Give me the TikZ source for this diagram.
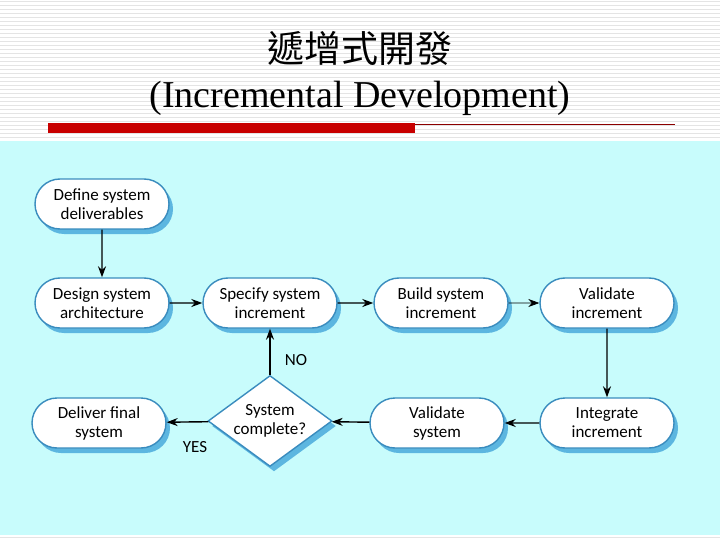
\documentclass[tikz,border=0pt]{standalone}
\usepackage{fontspec}
\setmainfont{Liberation Serif}
\newfontfamily\cjk{Noto Sans CJK TC}
\newfontfamily\flowfont{Carlito}
\usepackage{tikz}
\usetikzlibrary{arrows.meta, positioning, shapes.geometric, shapes.misc, shadows}
\definecolor{panelcyan}{HTML}{C8FCFC}
\definecolor{edgeblue}{HTML}{3A8CBE}
\definecolor{shadeblue}{HTML}{5CB6E0}
\definecolor{barred}{HTML}{C80000}
\definecolor{stripegray}{HTML}{E4E4E4}

\begin{document}
\begin{tikzpicture}[x=1pt, y=-1pt,
    stage/.style={rounded rectangle, draw=edgeblue, line width=1.4pt, fill=white, minimum width=138pt, minimum height=50pt, inner sep=2pt, align=center, font=\flowfont\fontsize{17}{19}\selectfont, drop shadow={shadow xshift=4pt, shadow yshift=-5pt, fill=shadeblue, opacity=1}},
    check/.style={diamond, aspect=1.37, draw=edgeblue, line width=1.4pt, fill=white, minimum width=124pt, minimum height=91pt, inner sep=-4pt, align=center, font=\flowfont\fontsize{17}{19}\selectfont, drop shadow={shadow xshift=4pt, shadow yshift=-5pt, fill=shadeblue, opacity=1}},
    flow/.style={-{Stealth[length=11pt, width=8pt]}, line width=1.4pt},
    tag/.style={font=\flowfont\fontsize{17}{19}\selectfont},
]
    \useasboundingbox (0,0) rectangle (720,540);
    % slide background
    \fill[white] (0,0) rectangle (720,540);
    \foreach \y in {2,6,...,138} \draw[stripegray, line width=1pt] (0,\y) -- (720,\y);
    \draw[stripegray, line width=1pt] (0,537) -- (720,537);
    \fill[panelcyan] (0,141) rectangle (720,535);

    % title
    \node[font=\cjk\fontsize{37}{40}\selectfont] (title) at (360,48) {遞增式開發};
    \node[font=\fontsize{38}{40}\selectfont] (subtitle) at (360,98) {(Incremental Development)};
    \fill[barred] (48,123) rectangle (415,133);
    \draw[barred!70!black, line width=0.8pt] (415,124) -- (675,124);

    % process steps
    \node[stage] (def) at (102,204) {Define system\\deliverables};
    \node[stage] (arch) at (102,303) {Design system\\architecture};
    \node[stage] (spec) at (270,303) {Specify system\\increment};
    \node[stage] (build) at (441,303) {Build system\\increment};
    \node[stage] (valinc) at (607,303) {Validate\\increment};
    \node[stage] (integ) at (607,423) {Integrate\\increment};
    \node[stage] (valsys) at (437,423) {Validate\\system};
    \node[check] (done) at (270,421) {System\\complete?};
    \node[stage] (deliver) at (99,423) {Deliver final\\system};

    \node[tag] (no) at (296,360) {NO};
    \node[tag] (yes) at (195,447) {YES};

    \draw[flow] (def) -- (arch);
    \draw[flow] (arch) -- (spec);
    \draw[flow] (spec) -- (build);
    \draw[flow, line width=0.6pt] (build) -- (valinc);
    \draw[flow] (valinc) -- (integ);
    \draw[flow] (integ) -- (valsys);
    \draw[flow] (valsys) -- (done);
    \draw[flow] (done) -- (deliver);
    \draw[flow] (done) -- (spec);
\end{tikzpicture}
\end{document}
